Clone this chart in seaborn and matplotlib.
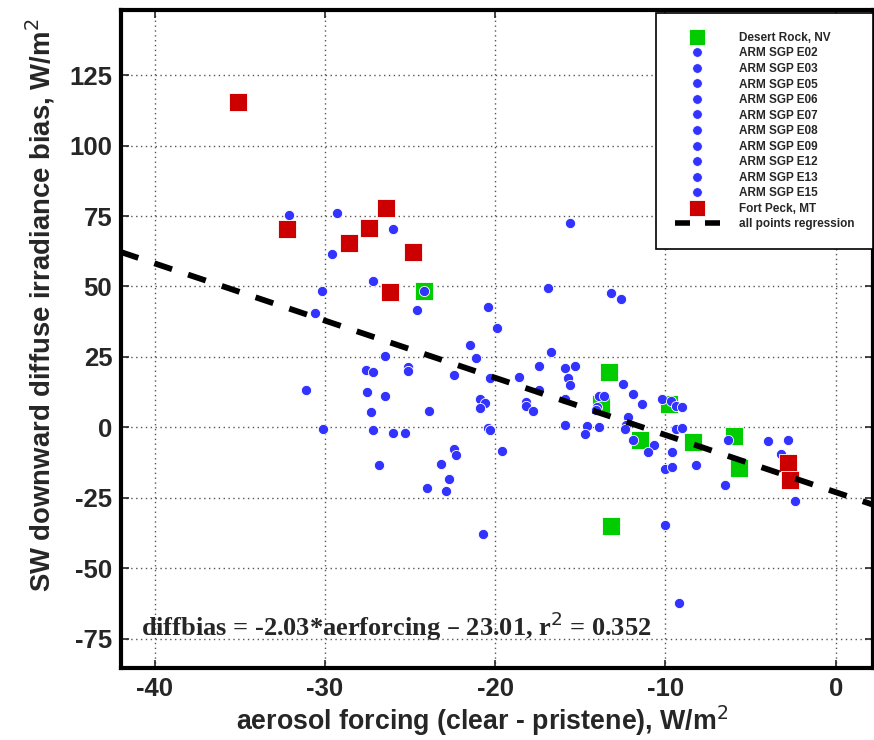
import matplotlib
matplotlib.use("Agg")
import matplotlib.pyplot as plt
from matplotlib.lines import Line2D
import numpy as np
import pandas as pd
import seaborn as sns

# Desert Rock, NV (green squares)
desert_x = [-24.2, -13.3, -13.8, -9.8, -11.5, -8.4, -6.0, -5.7, -13.2]
desert_y = [48.3, 19.6, 8.4, 8.4, -4.4, -5.2, -3.2, -14.3, -35.1]

# ARM SGP extended facilities (blue circles)
arm_x = [-32.1, -29.3, -26.0, -29.6, -27.2, -30.2, -24.2, -30.6, -24.6, -20.4,
         -19.9, -21.5, -21.1, -26.5, -27.6, -27.2, -25.1, -25.1, -15.6, -16.9,
         -13.2, -12.6, -16.7, -22.4, -17.4, -15.9, -15.3, -15.7, -15.6, -18.6,
         -20.3, -17.4, -12.5, -11.9, -11.4, -13.9, -13.6, -15.9, -14.0, -14.1,
         -26.5, -23.9, -20.9, -20.6, -20.9, -18.2, -18.2, -17.8, -10.2, -9.7,
         -9.4, -9.0, -12.2, -12.3, -12.4, -15.9, -14.6, -14.7, -13.9, -20.4,
         -20.3, -26.0, -25.3, -9.4, -9.0, -11.9, -10.7, -11.0, -9.6, -19.6,
         -26.8, -23.2, -22.4, -22.3, -22.7, -24.0, -22.9, -10.0, -9.6, -8.2,
         -6.3, -4.0, -2.8, -3.2, -6.5, -2.4, -10.0, -20.7, -9.2, -31.1,
         -27.5, -27.3, -30.1, -27.2]
arm_y = [75.2, 76.0, 70.4, 61.6, 51.8, 48.3, 48.3, 40.7, 41.5, 42.7,
         35.2, 29.4, 24.7, 25.4, 20.2, 19.5, 21.4, 20.0, 72.6, 49.4,
         47.6, 45.4, 26.7, 18.4, 21.9, 21.2, 21.9, 17.5, 15.1, 17.8,
         17.5, 13.1, 15.5, 11.7, 8.2, 11.1, 11.1, 9.9, 7.2, 6.3,
         11.0, 5.7, 9.9, 8.8, 7.0, 9.0, 7.4, 5.7, 9.9, 9.3,
         7.6, 7.2, 3.7, 0.7, -0.7, 1.0, 0.4, -2.5, 0.1, -0.2,
         -0.8, -1.9, -2.1, -0.5, -0.1, -4.6, -6.4, -8.8, -8.8, -8.4,
         -13.5, -12.9, -7.6, -9.9, -18.5, -21.7, -22.6, -14.9, -14.1, -13.5,
         -4.6, -5.0, -4.6, -9.6, -20.6, -26.1, -34.8, -37.9, -62.5, 13.4,
         12.4, 5.4, -0.7, -1.1]
arm_sites = ["E02", "E03", "E05", "E06", "E07", "E08", "E09", "E12", "E13", "E15"]

# Fort Peck, MT (red squares)
peck_x = [-35.1, -32.2, -28.6, -27.4, -26.4, -24.8, -26.2, -2.8, -2.7]
peck_y = [115.4, 70.4, 65.4, 70.9, 77.8, 62.3, 48.2, -12.5, -18.8]

# regression
slope, intercept, r2 = -2.03, -23.01, 0.352

xlim = (-42, 2.2)
ylim = (-85.5, 148)
xticks = [-40, -30, -20, -10, 0]
yticks = [-75, -50, -25, 0, 25, 50, 75, 100, 125]

green = "#00cc00"
blue = "#3333ff"
red = "#cc0000"

sns.set_style("ticks")
plt.rcParams["font.family"] = ["Liberation Sans", "DejaVu Sans"]
plt.rcParams["axes.unicode_minus"] = False

fig = plt.figure(figsize=(8.74, 7.40), dpi=100)
ax = fig.add_axes([0.138, 0.097, 0.861, 0.889])

sns.scatterplot(x=desert_x, y=desert_y, ax=ax, marker="s", s=160, color=green,
                edgecolor="white", linewidth=0.6, zorder=3)
sns.scatterplot(x=arm_x, y=arm_y, ax=ax, marker="o", s=54, color=blue,
                edgecolor="white", linewidth=0.6, zorder=4)
sns.scatterplot(x=peck_x, y=peck_y, ax=ax, marker="s", s=160, color=red,
                edgecolor="white", linewidth=0.6, zorder=5)

reg = pd.DataFrame({"x": list(xlim)})
reg["y"] = slope * reg["x"] + intercept
sns.lineplot(data=reg, x="x", y="y", ax=ax, color="black", lw=4.2,
             dashes=False, zorder=6)
ax.lines[-1].set_dashes([3.2, 2.9])

ax.set_xlim(*xlim)
ax.set_ylim(*ylim)
ax.set_xticks(xticks)
ax.set_yticks(yticks)
ax.grid(True, linestyle=(0, (1, 2.5)), color="#555555", linewidth=1.0)
ax.tick_params(direction="in", length=6, width=1.2, top=True, right=True,
               labelsize=18.5, pad=6)
for lab in ax.get_xticklabels() + ax.get_yticklabels():
    lab.set_fontweight("bold")
for sp in ax.spines.values():
    sp.set_linewidth(3)
    sp.set_color("black")

ax.set_xlabel("aerosol forcing (clear - pristene), W/m$^2$", fontsize=19.3,
              fontweight="bold")
ax.set_ylabel("SW downward diffuse irradiance bias, W/m$^2$", fontsize=19.8,
              fontweight="bold")
ax.xaxis.set_label_coords(0.48, -0.054)
ax.yaxis.set_label_coords(-0.084, 0.552)

ax.text(-40.8, -70.5,
        f"diffbias = {slope:.2f}*aerforcing \u2013 {abs(intercept):.2f}, r$^2$ = {r2:.3f}",
        family=["Liberation Serif", "DejaVu Serif"], fontweight="bold",
        fontsize=19, va="center", ha="left", zorder=7)

handles = [Line2D([], [], marker="s", ls="", color=green, markersize=12,
                  markeredgecolor="white", markeredgewidth=0.6)]
labels = ["Desert Rock, NV"]
for site in arm_sites:
    handles.append(Line2D([], [], marker="o", ls="", color=blue, markersize=7,
                          markeredgecolor="white", markeredgewidth=0.6))
    labels.append(f"ARM SGP {site}")
handles.append(Line2D([], [], marker="s", ls="", color=red, markersize=12,
                      markeredgecolor="white", markeredgewidth=0.6))
labels.append("Fort Peck, MT")
handles.append(Line2D([], [], color="black", lw=4, dashes=[2.7, 2.7]))
labels.append("all points regression")

leg = ax.legend(handles, labels, loc="upper right", bbox_to_anchor=(1.0, 0.996),
                prop={"weight": "bold", "size": 8.5}, frameon=True, fancybox=False,
                edgecolor="black", framealpha=1, labelspacing=0.3,
                handlelength=3.8, handletextpad=1.6, borderpad=1.6,
                borderaxespad=0.0)
leg.get_frame().set_linewidth(1.2)

fig.savefig("out.png", dpi=100)
